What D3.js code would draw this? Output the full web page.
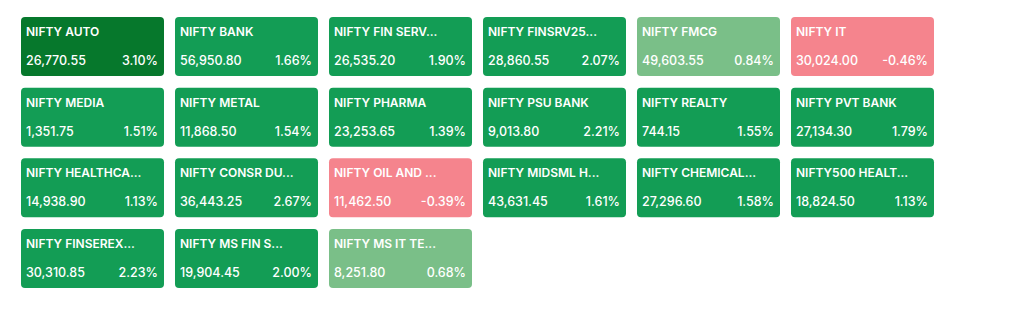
<!DOCTYPE html>
<html lang="en">
<head>
  <meta charset="utf-8">
  <title>NIFTY Sector Indices</title>
  <script src="https://d3js.org/d3.v7.min.js"></script>
  <style>
    body {
      margin: 0;
      background: #fff;
      font-family: Inter, "Open Sans", sans-serif;
    }
    .name { font-size: 12px; font-weight: 600; fill: #fff; }
    .val  { font-size: 12.5px; font-weight: 500; fill: #fff; }
  </style>
</head>
<body>
  <svg width="1024" height="325"></svg>

  <script>
  const names = [
    "NIFTY AUTO", "NIFTY BANK", "NIFTY FIN SERV...", "NIFTY FINSRV25...", "NIFTY FMCG", "NIFTY IT",
    "NIFTY MEDIA", "NIFTY METAL", "NIFTY PHARMA", "NIFTY PSU BANK", "NIFTY REALTY", "NIFTY PVT BANK",
    "NIFTY HEALTHCA...", "NIFTY CONSR DU...", "NIFTY OIL AND ...", "NIFTY MIDSML H...", "NIFTY CHEMICAL...", "NIFTY500 HEALT...",
    "NIFTY FINSEREX...", "NIFTY MS FIN S...", "NIFTY MS IT TE..."
  ];
  const prices = [
    26770.55, 56950.80, 26535.20, 28860.55, 49603.55, 30024.00,
    1351.75, 11868.50, 23253.65, 9013.80, 744.15, 27134.30,
    14938.90, 36443.25, 11462.50, 43631.45, 27296.60, 18824.50,
    30310.85, 19904.45, 8251.80
  ];
  const changes = [
    3.10, 1.66, 1.90, 2.07, 0.84, -0.46,
    1.51, 1.54, 1.39, 2.21, 1.55, 1.79,
    1.13, 2.67, -0.39, 1.61, 1.58, 1.13,
    2.23, 2.00, 0.68
  ];

  const cols = 6, rows = Math.ceil(names.length / cols);
  const svg = d3.select("svg");

  const x = d3.scaleBand().domain(d3.range(cols)).range([21, 934]).paddingInner(0.0714);
  const y = d3.scaleBand().domain(d3.range(rows)).range([17, 288]).paddingInner(0.165);

  // colour by daily change bucket
  const color = d3.scaleThreshold()
    .domain([0, 1, 3])
    .range(["#f5848d", "#7abf88", "#139d55", "#06782c"]);

  const fmtPrice = d3.format(",.2f");
  const fmtPct = v => d3.format(".2f")(v).replace("\u2212", "-") + "%";

  const tiles = svg.selectAll(".tile")
    .data(names.map((n, i) => ({ name: n, price: prices[i], change: changes[i], i })))
    .enter().append("g")
    .attr("class", "tile")
    .attr("transform", d => `translate(${x(d.i % cols)},${y(Math.floor(d.i / cols))})`);

  tiles.append("rect")
    .attr("width", x.bandwidth())
    .attr("height", y.bandwidth())
    .attr("rx", 4)
    .attr("fill", d => color(d.change));

  tiles.append("text")
    .attr("class", "name")
    .attr("x", 5)
    .attr("y", 19)
    .text(d => d.name);

  tiles.append("text")
    .attr("class", "val")
    .attr("x", 5)
    .attr("y", 48)
    .text(d => fmtPrice(d.price));

  tiles.append("text")
    .attr("class", "val")
    .attr("x", x.bandwidth() - 6)
    .attr("y", 48)
    .attr("text-anchor", "end")
    .text(d => fmtPct(d.change));
  </script>
</body>
</html>
